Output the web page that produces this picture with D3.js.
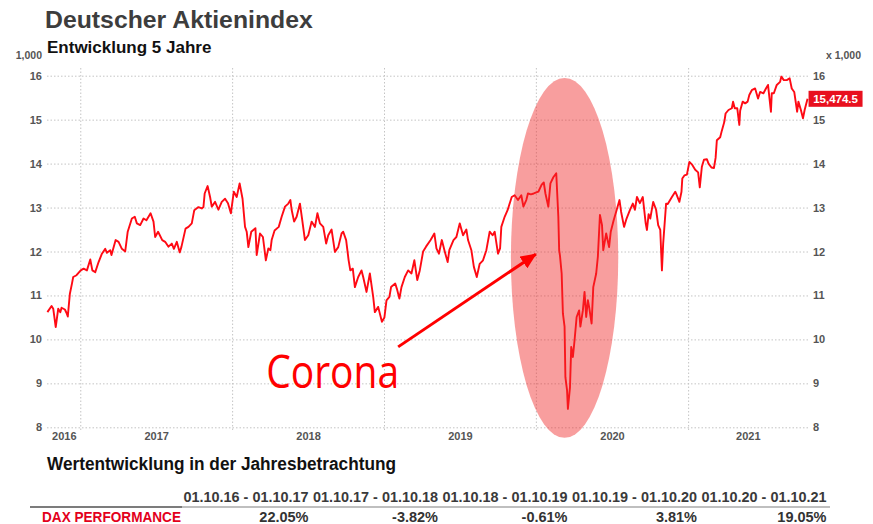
<!DOCTYPE html>
<html>
<head>
<meta charset="utf-8">
<script src="https://cdn.jsdelivr.net/npm/d3@7"></script>
<style>
  body { margin: 0; background: #fff; }
  text { font-family: "Liberation Sans", Arial, Helvetica, sans-serif; }
</style>
</head>
<body>
<svg id="chart" width="873" height="524"></svg>
<script>
// DAX close (index points)
const daxSeries = [
  ["2016-10-14",10620],["2016-10-24",10760],["2016-10-28",10700],["2016-11-03",10280],["2016-11-09",10700],
  ["2016-11-14",10620],["2016-11-17",10720],["2016-11-25",10680],["2016-11-29",10600],["2016-12-02",10520],
  ["2016-12-07",11040],["2016-12-12",11270],["2016-12-15",11420],["2016-12-23",11460],
  ["2017-01-02",11570],["2017-01-09",11610],["2017-01-17",11570],["2017-01-25",11820],["2017-01-30",11570],
  ["2017-02-06",11530],["2017-02-14",11760],["2017-02-22",11950],["2017-03-02",12060],["2017-03-06",11970],
  ["2017-03-14",12030],["2017-03-17",11920],["2017-03-27",12260],["2017-04-03",12220],["2017-04-11",12060],
  ["2017-04-19",12000],["2017-04-25",12450],["2017-05-05",12750],["2017-05-12",12790],["2017-05-17",12640],
  ["2017-05-25",12600],["2017-06-02",12750],["2017-06-09",12710],["2017-06-19",12870],["2017-06-26",12680],
  ["2017-06-30",12330],["2017-07-07",12450],["2017-07-17",12260],["2017-07-24",12220],["2017-08-01",12110],
  ["2017-08-09",12180],["2017-08-14",12060],["2017-08-21",12220],["2017-08-28",11980],["2017-09-01",12100],
  ["2017-09-11",12520],["2017-09-18",12560],["2017-09-26",12640],["2017-10-02",12940],["2017-10-12",13010],
  ["2017-10-20",12980],["2017-10-24",13010],["2017-10-27",13320],["2017-11-03",13490],["2017-11-09",13240],
  ["2017-11-13",13020],["2017-11-21",13130],["2017-11-29",12950],["2017-12-07",13130],["2017-12-15",13200],
  ["2017-12-22",13100],["2017-12-29",12870],
  ["2018-01-05",13360],["2018-01-12",13240],["2018-01-19",13550],["2018-01-26",13200],["2018-02-01",12560],
  ["2018-02-05",12450],["2018-02-09",12100],["2018-02-16",12450],["2018-02-26",12530],["2018-03-01",11920],
  ["2018-03-09",12410],["2018-03-16",12330],["2018-03-23",11800],["2018-03-29",12070],["2018-04-03",12030],
  ["2018-04-06",12260],["2018-04-13",12480],["2018-04-23",12560],["2018-04-30",12790],["2018-05-08",13020],
  ["2018-05-16",13090],["2018-05-21",13170],["2018-05-24",12950],["2018-05-30",12680],["2018-06-05",12790],
  ["2018-06-13",13090],["2018-06-18",12750],["2018-06-25",12260],["2018-07-03",12370],["2018-07-11",12680],
  ["2018-07-19",12560],["2018-07-25",12870],["2018-07-31",12640],["2018-08-08",12560],["2018-08-15",12180],
  ["2018-08-20",12370],["2018-08-28",12500],["2018-09-05",11990],["2018-09-13",12100],["2018-09-21",12410],
  ["2018-09-25",12450],["2018-10-02",12260],["2018-10-08",11800],["2018-10-12",11570],["2018-10-18",11610],
  ["2018-10-23",11190],["2018-10-31",11420],["2018-11-08",11570],["2018-11-12",11420],["2018-11-20",11080],
  ["2018-11-28",11500],["2018-12-06",10970],["2018-12-10",10620],["2018-12-18",10740],["2018-12-27",10400],
  ["2019-01-02",10500],["2019-01-07",10890],["2019-01-14",10970],["2019-01-18",11190],["2019-01-28",11270],
  ["2019-02-01",11150],["2019-02-07",10930],["2019-02-12",11190],["2019-02-20",11420],["2019-02-28",11570],
  ["2019-03-08",11500],["2019-03-15",11800],["2019-03-22",11350],["2019-03-28",11570],["2019-04-05",12000],
  ["2019-04-12",12110],["2019-04-23",12260],["2019-05-02",12410],["2019-05-07",12070],["2019-05-13",11950],
  ["2019-05-20",12260],["2019-05-27",12000],["2019-06-03",11760],["2019-06-07",12030],["2019-06-17",12260],
  ["2019-06-24",12330],["2019-07-02",12640],["2019-07-10",12370],["2019-07-18",12500],["2019-07-22",12260],
  ["2019-07-30",12030],["2019-08-05",11650],["2019-08-12",11420],["2019-08-19",11720],["2019-08-27",11800],
  ["2019-09-04",12030],["2019-09-12",12450],["2019-09-19",12370],["2019-09-24",12450],["2019-10-02",11950],
  ["2019-10-07",12070],["2019-10-10",12560],["2019-10-18",12790],["2019-10-25",12940],["2019-11-04",13240],
  ["2019-11-11",13280],["2019-11-19",13170],["2019-11-27",13280],["2019-12-02",13020],["2019-12-09",13170],
  ["2019-12-13",13320],["2019-12-20",13300],["2019-12-27",13320],
  ["2020-01-07",13360],["2020-01-15",13520],["2020-01-20",13570],["2020-01-24",13320],["2020-01-31",13020],
  ["2020-02-05",13550],["2020-02-12",13690],["2020-02-19",13780],["2020-02-24",12790],["2020-02-26",12030],
  ["2020-02-28",11900],["2020-03-03",11500],["2020-03-06",10590],["2020-03-10",10290],["2020-03-12",9140],
  ["2020-03-16",8840],["2020-03-18",8420],["2020-03-23",8910],["2020-03-26",9830],["2020-03-30",9600],
  ["2020-04-03",9980],["2020-04-08",10510],["2020-04-14",10660],["2020-04-17",10290],["2020-04-23",10660],
  ["2020-04-27",11080],["2020-05-01",10510],["2020-05-05",10890],["2020-05-08",10740],["2020-05-14",10360],
  ["2020-05-18",11190],["2020-05-25",11500],["2020-05-29",11880],["2020-06-03",12830],["2020-06-08",12600],
  ["2020-06-11",12030],["2020-06-18",12410],["2020-06-25",12100],["2020-06-29",12450],["2020-07-06",12710],
  ["2020-07-13",12940],["2020-07-20",13170],["2020-07-24",12900],["2020-07-31",12560],["2020-08-06",12750],
  ["2020-08-14",12940],["2020-08-21",13090],["2020-08-26",12950],["2020-08-31",13240],["2020-09-07",13100],
  ["2020-09-14",13240],["2020-09-21",12640],["2020-09-24",12490],["2020-09-28",12850],["2020-10-02",12750],
  ["2020-10-09",13130],["2020-10-16",12950],["2020-10-21",12600],["2020-10-26",12490],["2020-10-30",11570],
  ["2020-11-02",12180],["2020-11-09",13090],["2020-11-13",13080],["2020-11-23",13240],["2020-12-01",13360],
  ["2020-12-04",13300],["2020-12-11",13130],["2020-12-16",13360],["2020-12-18",13660],["2020-12-23",13730],
  ["2020-12-29",13750],
  ["2021-01-04",14040],["2021-01-11",13970],["2021-01-18",13860],["2021-01-25",13800],["2021-01-29",13460],
  ["2021-02-03",13930],["2021-02-08",14090],["2021-02-15",14100],["2021-02-19",14000],["2021-02-26",13910],
  ["2021-03-04",13900],["2021-03-08",14130],["2021-03-11",14530],["2021-03-19",14600],["2021-03-23",14750],
  ["2021-03-29",14950],["2021-04-01",15140],["2021-04-08",15220],["2021-04-16",15260],["2021-04-19",15410],
  ["2021-04-23",15260],["2021-04-29",15260],["2021-05-04",14880],["2021-05-06",15200],["2021-05-12",15410],
  ["2021-05-18",15370],["2021-05-24",15410],["2021-05-28",15560],["2021-06-03",15670],["2021-06-11",15710],
  ["2021-06-18",15480],["2021-06-23",15630],["2021-07-01",15600],["2021-07-07",15710],["2021-07-12",15790],
  ["2021-07-19",15180],["2021-07-21",15600],["2021-07-26",15600],["2021-08-02",15790],["2021-08-10",15860],
  ["2021-08-13",15980],["2021-08-19",15900],["2021-08-26",15900],["2021-09-02",15940],["2021-09-07",15710],
  ["2021-09-13",15630],["2021-09-20",15180],["2021-09-23",15410],["2021-09-29",15220],["2021-10-04",15030],
  ["2021-10-08",15220],["2021-10-15",15474.5]
];

const yTicks = [8000, 9000, 10000, 11000, 12000, 13000, 14000, 15000, 16000];
const gridYears = ["2017-01-01", "2018-01-01", "2019-01-01", "2020-01-01", "2021-01-01"];

const periods = ["01.10.16 - 01.10.17", "01.10.17 - 01.10.18", "01.10.18 - 01.10.19", "01.10.19 - 01.10.20", "01.10.20 - 01.10.21"];
const performance = ["22.05%", "-3.82%", "-0.61%", "3.81%", "19.05%"];

// corona marker: time window and value band of the highlight, arrow from/to
const corona = { from: "2019-11-02", to: "2020-07-17", low: 7760, high: 15950 };
const arrowFrom = ["2019-02-04", 9830];
const arrowTo = ["2020-01-01", 11940];

const parse = d3.timeParse("%Y-%m-%d");
const data = daxSeries.map(d => ({ date: parse(d[0]), value: d[1] }));

const svg = d3.select("#chart");
const plotL = 47, plotR = 808, plotT = 67, plotB = 430;

const x = d3.scaleTime()
  .domain([new Date(2016, 0, 1), new Date(2022, 0, 1)])
  .range([-72, 840]);
const y = d3.scaleLinear().domain([8000, 16000]).range([427.3, 75.7]);

// titles
svg.append("text").attr("x", 45).attr("y", 28)
  .attr("font-size", 24.8).attr("font-weight", "bold").attr("fill", "#3d3d3d")
  .text("Deutscher Aktienindex");
svg.append("text").attr("x", 47).attr("y", 53)
  .attr("font-size", 17).attr("font-weight", "bold").attr("fill", "#111")
  .text("Entwicklung 5 Jahre");
svg.append("text").attr("x", 42).attr("y", 59).attr("text-anchor", "end")
  .attr("font-size", 10.5).attr("font-weight", "bold").attr("fill", "#555")
  .text("1,000");
svg.append("text").attr("x", 826).attr("y", 59)
  .attr("font-size", 10.5).attr("font-weight", "bold").attr("fill", "#555")
  .text("x 1,000");

function styleAxis(g) {
  g.select(".domain").remove();
  g.selectAll(".tick text").attr("font-size", 11).attr("font-weight", "bold").attr("fill", "#555")
    .style("font-family", "'Liberation Sans', Arial, sans-serif");
}

// horizontal grid + left labels
svg.append("g")
  .attr("transform", `translate(${plotL},0)`)
  .call(d3.axisLeft(y).tickValues(yTicks).tickFormat(d => d / 1000).tickSize(-(plotR - plotL)).tickPadding(5))
  .call(styleAxis)
  .call(g => g.selectAll(".tick line").attr("stroke", "#c4c4c4").attr("stroke-dasharray", "1.5,2"));

// right labels
svg.append("g")
  .attr("transform", `translate(${plotR},0)`)
  .call(d3.axisRight(y).tickValues(yTicks).tickFormat(d => d / 1000).tickSize(0).tickPadding(5))
  .call(styleAxis);

// vertical grid at year starts
svg.append("g")
  .attr("transform", `translate(0,${plotB})`)
  .call(d3.axisBottom(x).tickValues(gridYears.map(parse)).tickSize(-(plotB - plotT)).tickFormat(""))
  .call(styleAxis)
  .call(g => g.selectAll(".tick line").attr("stroke", "#c4c4c4").attr("stroke-dasharray", "1.5,2"));

// year labels centred in the visible part of each year
const first = data[0].date, last = data[data.length - 1].date;
const yearMids = d3.timeYear.range(d3.timeYear.floor(first), last).map(s => {
  const lo = Math.max(s, first), hi = Math.min(d3.timeYear.offset(s, 1), last);
  return new Date((lo + hi) / 2);
});
svg.append("g")
  .attr("transform", "translate(0,427)")
  .call(d3.axisBottom(x).tickValues(yearMids).tickFormat(d3.timeFormat("%Y")).tickSize(0).tickPadding(5))
  .call(styleAxis);

// DAX line
const line = d3.line().x(d => x(d.date)).y(d => y(d.value));
svg.append("path").datum(data)
  .attr("d", line)
  .attr("fill", "none")
  .attr("stroke", "#ff0a14")
  .attr("stroke-width", 1.9)
  .attr("stroke-linejoin", "round");

// corona highlight
const cx0 = x(parse(corona.from)), cx1 = x(parse(corona.to));
svg.append("ellipse")
  .attr("cx", (cx0 + cx1) / 2).attr("cy", (y(corona.low) + y(corona.high)) / 2)
  .attr("rx", (cx1 - cx0) / 2).attr("ry", (y(corona.low) - y(corona.high)) / 2)
  .attr("fill", "rgba(240,40,40,0.45)");

svg.append("defs").append("marker")
  .attr("id", "head").attr("markerUnits", "userSpaceOnUse")
  .attr("viewBox", "0 0 16 14").attr("refX", 15).attr("refY", 7)
  .attr("markerWidth", 16).attr("markerHeight", 14).attr("orient", "auto")
  .append("path").attr("d", "M0,0L16,7L0,14Z").attr("fill", "#ff0000");

svg.append("line")
  .attr("x1", x(parse(arrowFrom[0]))).attr("y1", y(arrowFrom[1]))
  .attr("x2", x(parse(arrowTo[0]))).attr("y2", y(arrowTo[1]))
  .attr("stroke", "#ff0000").attr("stroke-width", 3)
  .attr("marker-end", "url(#head)");

svg.append("text")
  .attr("x", x(parse(arrowFrom[0])) - 132).attr("y", 388)
  .attr("textLength", 133).attr("lengthAdjust", "spacingAndGlyphs")
  .attr("font-size", 46).attr("fill", "#ff0000")
  .style("font-family", "'Open Sans', 'Noto Sans', sans-serif")
  .text("Corona");

// last value badge
const lastPt = data[data.length - 1];
const badge = svg.append("g").attr("transform", `translate(${x(lastPt.date) + 1},${y(lastPt.value)})`);
badge.append("rect").attr("x", 0).attr("y", -8).attr("width", 54).attr("height", 16).attr("fill", "#e8101e");
badge.append("text").attr("x", 27).attr("y", 4.5).attr("text-anchor", "middle")
  .attr("font-size", 11.5).attr("font-weight", "bold").attr("fill", "#fff")
  .text(d3.format(",.1f")(lastPt.value));

// yearly performance table
svg.append("text").attr("x", 47).attr("y", 470)
  .attr("textLength", 349).attr("lengthAdjust", "spacingAndGlyphs")
  .attr("font-size", 18).attr("font-weight", "bold").attr("fill", "#111")
  .text("Wertentwicklung in der Jahresbetrachtung");

const col = d3.scaleBand().domain(periods).range([179, 826.5]);

svg.selectAll(".period").data(periods).enter().append("text")
  .attr("class", "period")
  .attr("x", d => col(d) + col.bandwidth() - 125).attr("y", 502)
  .attr("textLength", 125).attr("lengthAdjust", "spacingAndGlyphs")
  .attr("font-size", 14.5).attr("font-weight", "bold").attr("fill", "#3a3a3a")
  .text(d => d);

svg.append("line").attr("x1", 30).attr("x2", 830).attr("y1", 507).attr("y2", 507)
  .attr("stroke", "#aaa").attr("stroke-width", 1.5);
svg.append("line").attr("x1", 30).attr("x2", 182).attr("y1", 507).attr("y2", 507)
  .attr("stroke", "#666").attr("stroke-width", 1.5);

svg.append("text").attr("x", 42).attr("y", 522)
  .attr("textLength", 139).attr("lengthAdjust", "spacingAndGlyphs")
  .attr("font-size", 14.5).attr("font-weight", "bold").attr("fill", "#e3001b")
  .text("DAX PERFORMANCE");

svg.selectAll(".perf").data(performance).enter().append("text")
  .attr("class", "perf")
  .attr("x", (d, i) => col(periods[i]) + col.bandwidth()).attr("y", 522)
  .attr("text-anchor", "end")
  .attr("font-size", 14.5).attr("font-weight", "bold").attr("fill", "#333")
  .text(d => d);
</script>
</body>
</html>
